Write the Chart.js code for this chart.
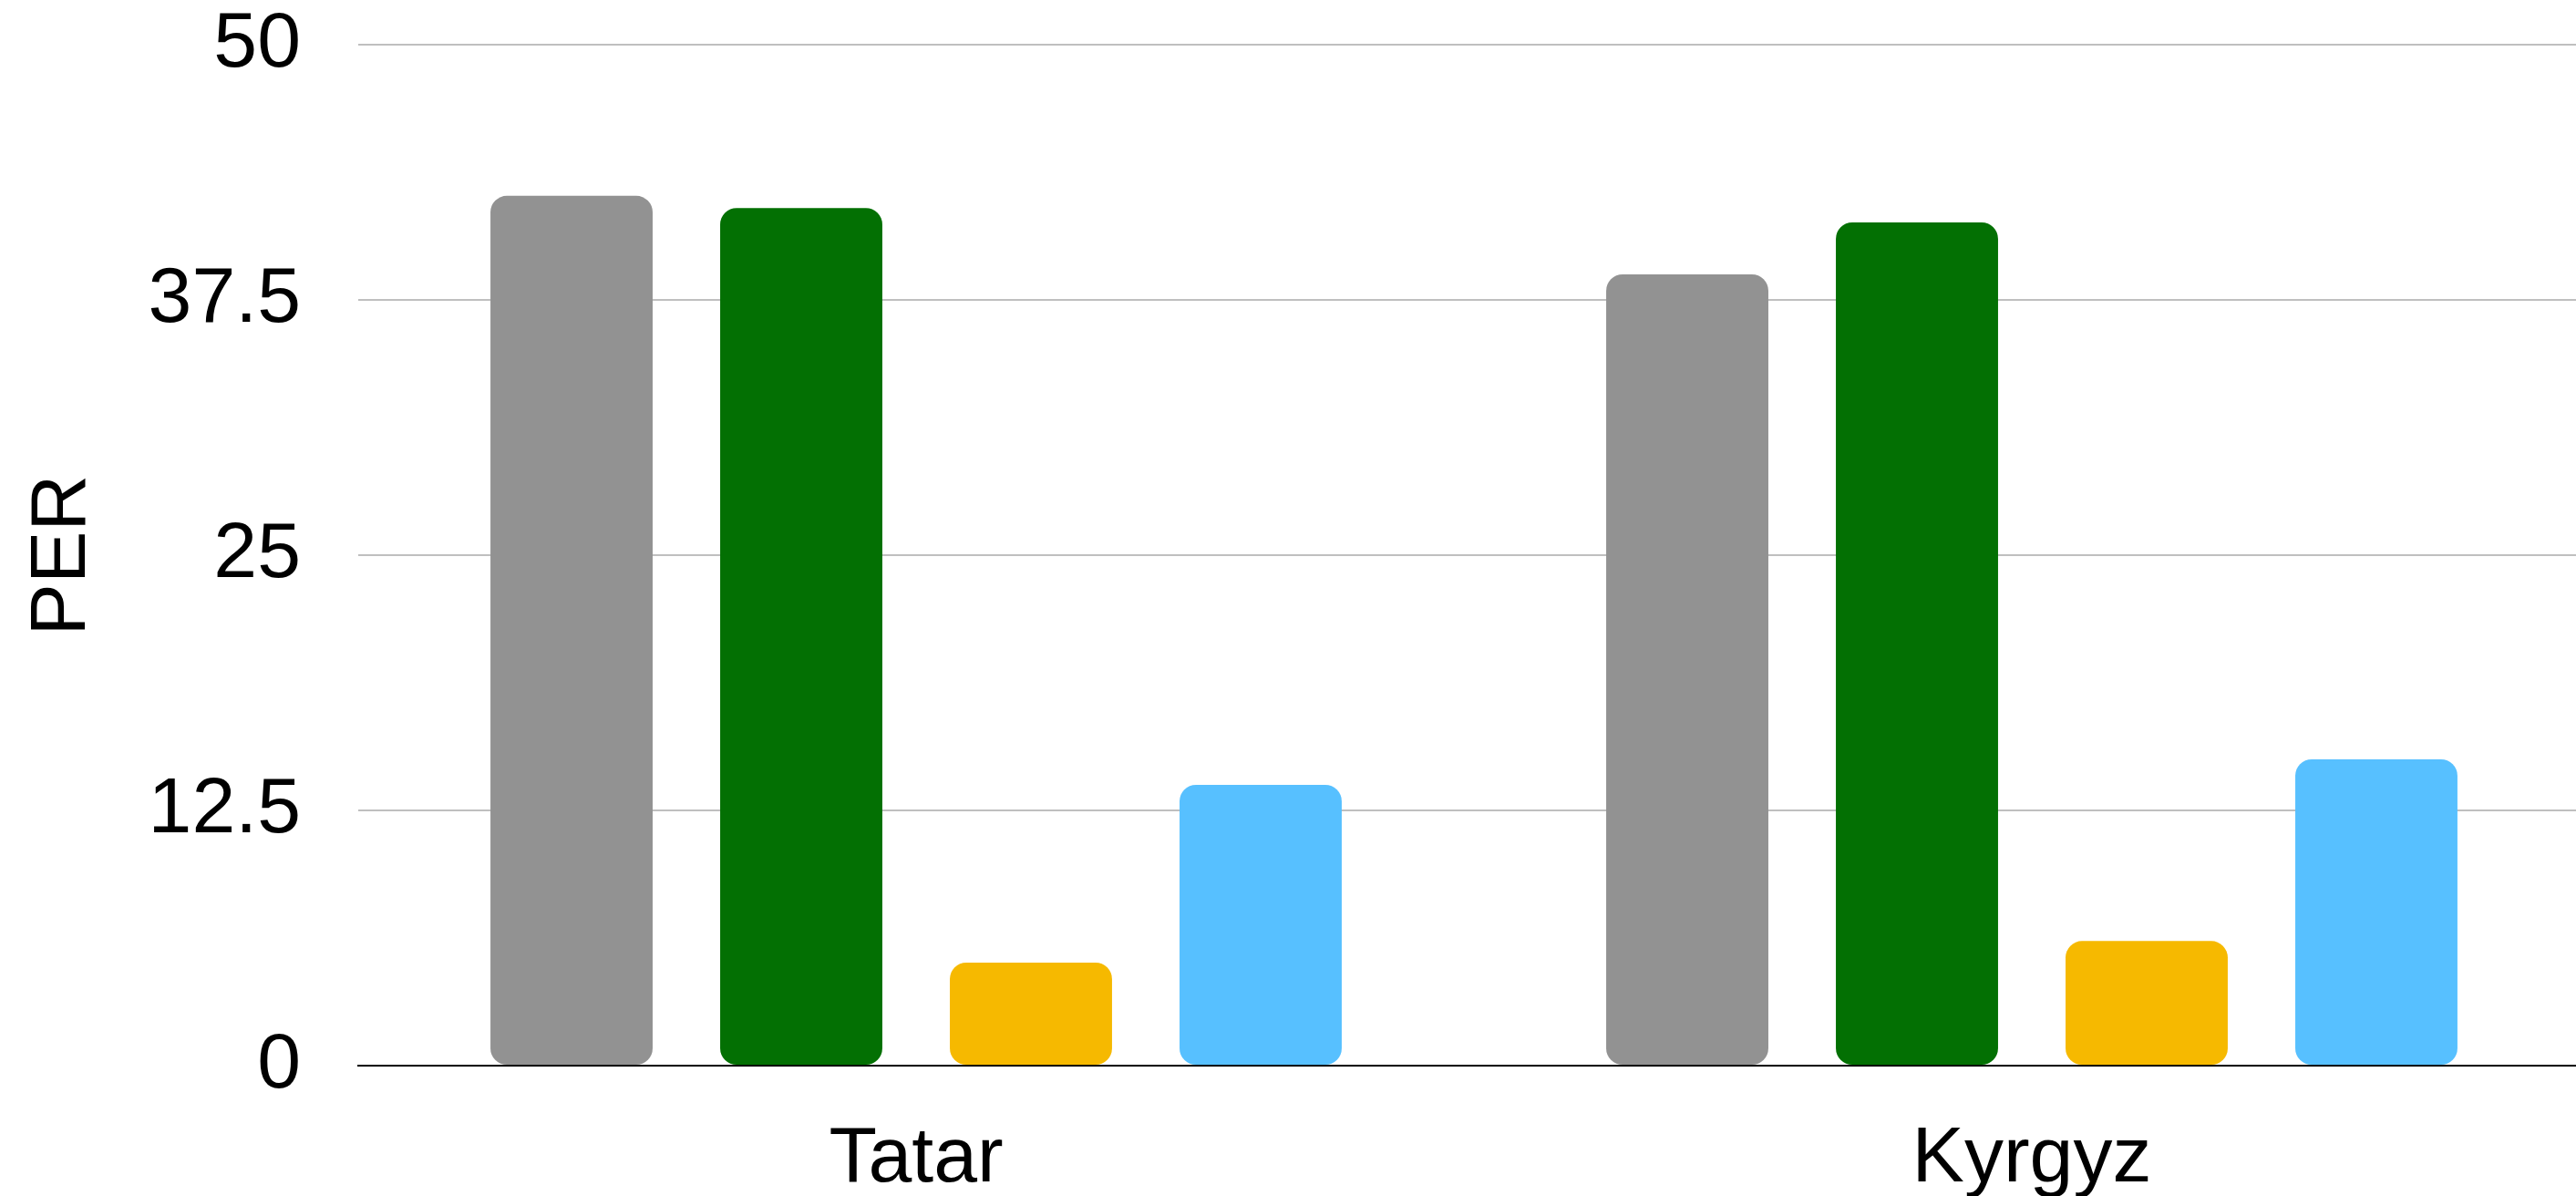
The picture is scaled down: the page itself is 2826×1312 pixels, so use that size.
<!DOCTYPE html>
<html lang="en">
<head>
  <meta charset="utf-8">
  <title>PER</title>
  <script src="https://cdn.jsdelivr.net/npm/chart.js@4.4.0/dist/chart.umd.min.js"></script>
  <style>
    html, body { margin: 0; padding: 0; background: #fff; overflow: hidden; }
    canvas { display: block; }
  </style>
</head>
<body>
  <canvas id="chart" width="2826" height="1312"></canvas>
  <script>
    // data
    const categories = ['Tatar', 'Kyrgyz'];
    const seriesNames = ['Series 1', 'Series 2', 'Series 3', 'Series 4'];
    const seriesColors = ['#929292', '#037003', '#f6b900', '#57c0ff'];
    const series1 = [42.6, 38.75];
    const series2 = [42.0, 41.3];
    const series3 = [5.05, 6.1];
    const series4 = [13.75, 15.0];
    const yTicks = [0, 12.5, 25, 37.5, 50];

    const values = [series1, series2, series3, series4];
    const font = { family: "'Liberation Sans', Arial, sans-serif", size: 86 };

    // the category axis runs a little past the right edge in the reference
    const stretchX = {
      id: 'stretchX',
      afterLayout(chart) {
        const x = chart.scales.x;
        x.right += 15;
        x.configure();
      }
    };

    new Chart(document.getElementById('chart'), {
      type: 'bar',
      data: {
        labels: categories,
        datasets: values.map((v, i) => ({
          label: seriesNames[i],
          data: v,
          backgroundColor: seriesColors[i],
          borderWidth: 0,
          borderRadius: 18,
          borderSkipped: false,
          categoryPercentage: 0.8235,
          barPercentage: 0.706
        }))
      },
      plugins: [stretchX],
      options: {
        responsive: false,
        animation: false,
        devicePixelRatio: 1,
        layout: { padding: { top: 49, right: 0, bottom: 0, left: 0 } },
        plugins: { legend: { display: false }, tooltip: { enabled: false } },
        scales: {
          x: {
            grid: { display: false, drawTicks: false },
            border: { color: '#000', width: 2 },
            ticks: { color: '#000', font, padding: 52 },
            afterFit: (s) => { s.height = 143; s.paddingLeft = 0; s.paddingRight = 0; }
          },
          y: {
            min: 0,
            max: 50,
            afterBuildTicks: (s) => { s.ticks = yTicks.map((v) => ({ value: v })); },
            grid: {
              drawTicks: false,
              lineWidth: 2,
              color: (ctx) => (ctx.tick && ctx.tick.value === 0 ? '#000' : '#bfbfbf')
            },
            border: { display: false },
            ticks: { color: '#000', font, padding: 63 },
            title: { display: true, text: 'PER', color: '#000', font, padding: { top: 18, bottom: 0 } },
            afterFit: (s) => { s.width = 393; s.paddingTop = 0; s.paddingBottom = 0; }
          }
        }
      }
    });
  </script>
</body>
</html>
